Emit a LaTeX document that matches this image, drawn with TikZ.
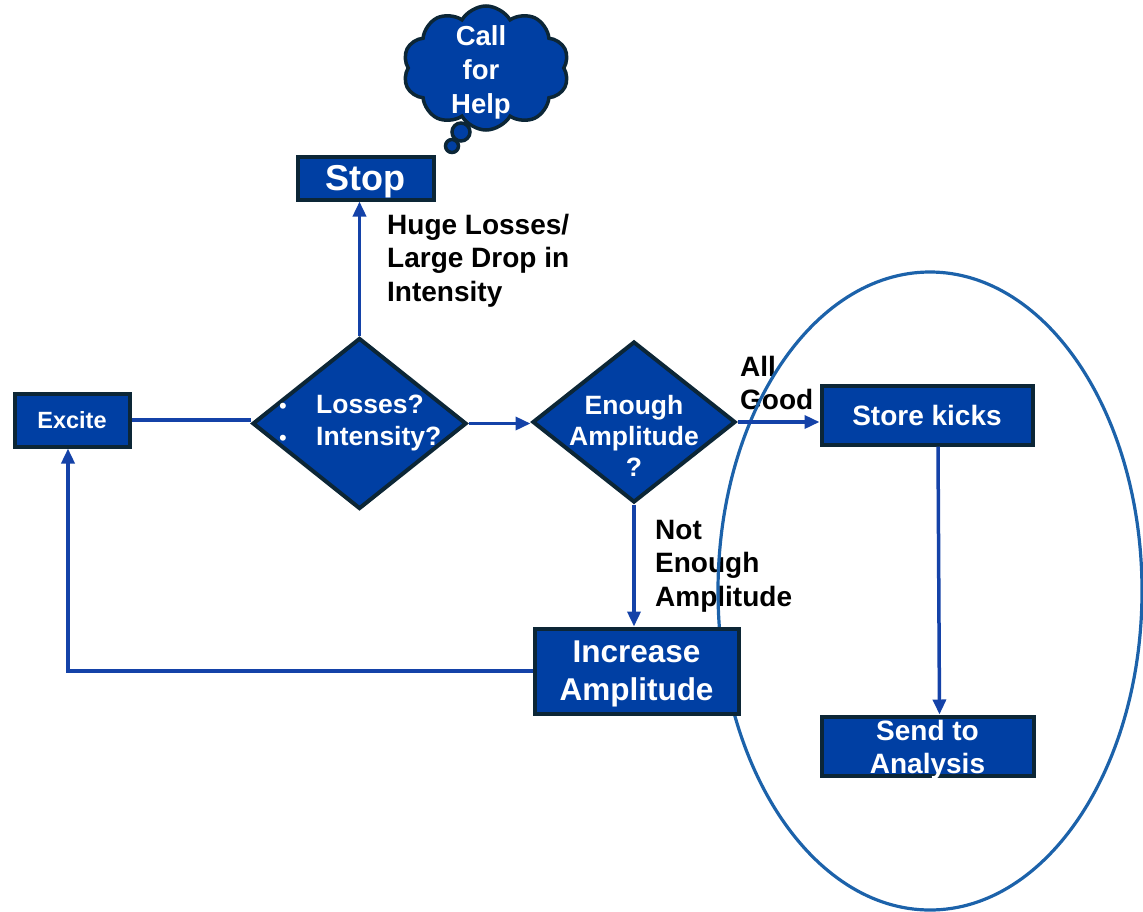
\documentclass[tikz,border=0pt]{standalone}
\usepackage{fontspec}
\setmainfont{Liberation Sans}
\usetikzlibrary{shapes.geometric,shapes.symbols,arrows.meta}
\definecolor{boxblue}{RGB}{0,63,163}
\definecolor{boxedge}{RGB}{12,38,54}
\definecolor{flowblue}{RGB}{20,66,168}
\definecolor{ringblue}{RGB}{28,98,170}
\tikzset{
  stepbox/.style={draw=boxedge, fill=boxblue, line width=4pt, inner sep=0pt,
    text=white, align=center, font=\bfseries\fontsize{28}{33.5}\selectfont},
  decision/.style={diamond, draw=boxedge, fill=boxblue, line width=4pt, inner sep=0pt},
  boxtext/.style={text=white, inner sep=0pt, font=\bfseries\fontsize{28}{33.5}\selectfont},
  edgetext/.style={text=black, inner sep=0pt, align=left, anchor=north west,
    font=\bfseries\fontsize{28}{33.5}\selectfont},
  link/.style={draw=flowblue, line width=3.5pt},
  flow/.style={link, -{Triangle[length=15pt,width=13pt]}},
  puff/.style={draw=boxedge, fill=boxblue, line width=3.5pt},
}
\begin{document}
\begin{tikzpicture}[x=1pt,y=-1pt]
\useasboundingbox (0,0) rectangle (1143,911);
\clip (0,0) rectangle (1143,911);

% branch labels
\node[edgetext] (lblstop) at (387,214) {Huge Losses/\\Large Drop in\\Intensity};
\node[edgetext] (lblgood) at (740,356) {All\\Good};
\node[edgetext] (lblnot) at (655,520) {Not\\Enough\\Amplitude};

% group ring around the storing branch
\draw[ringblue, line width=3.2pt] (930,591) ellipse [x radius=212, y radius=319];

% process boxes
\node[stepbox, minimum width=115, minimum height=53, text depth=0pt,
  font=\bfseries\fontsize{23.5}{28}\selectfont] (excite) at (72,420) {Excite};
\node[stepbox, minimum width=136, minimum height=43, text depth=0pt,
  font=\bfseries\fontsize{36}{40}\selectfont] (stop) at (365.5,178) {Stop};
\node[stepbox, minimum width=211, minimum height=59] (store) at (927,415) {Store kicks};
\node[stepbox, minimum width=212, minimum height=59] (send) at (927.5,746) {};
\node[boxtext, align=center] (sendtext) at (927.5,749.5) {Send to\\Analysis};
\node[stepbox, minimum width=204, minimum height=85] (inc) at (636.5,671) {};
\node[boxtext, align=center, font=\bfseries\fontsize{31.5}{38.5}\selectfont] (inctext) at (636.5,674) {Increase\\Amplitude};

% decisions
\node[decision, minimum width=214, minimum height=171] (d1) at (359.5,423.5) {};
\node[boxtext, anchor=west, align=left, font=\bfseries\fontsize{26.5}{32}\selectfont] (d1text) at (279,423)
  {\makebox[37pt][l]{\mdseries\fontsize{22}{32}\selectfont •}Losses?\\\makebox[37pt][l]{\mdseries\fontsize{22}{32}\selectfont •}Intensity?};
\node[decision, minimum width=203, minimum height=161] (d2) at (634,422) {};
\node[boxtext, align=center, font=\bfseries\fontsize{26.5}{31}\selectfont] (d2text) at (634,435.5) {Enough\\Amplitude\\?};

% thought cloud
\node[cloud, cloud puffs=10, cloud puff arc=120, aspect=1.3, puff,
  minimum width=166, minimum height=124] (cloud) at (486,68) {};
\node[boxtext, align=center, font=\bfseries\fontsize{27.5}{34}\selectfont] (cloudtext) at (481,72) {Call\\for\\Help};
\node[circle, puff, minimum size=18, inner sep=0pt] (bub1) at (461,132) {};
\node[circle, puff, minimum size=13, inner sep=0pt] (bub2) at (452,146) {};

% connectors
\draw[link] (excite.east) -- (excite.east -| d1.west);
\draw[flow] (d1.north) -- (d1.north |- stop.south);
\draw[flow] (d1.east) -- (d1.east -| d2.west);
\draw[flow] (d2.east) -- (d2.east -| store.west);
\draw[flow] (d2.south) -- (d2.south |- inc.north);
\draw[flow] (inc.west) -| ([xshift=-4pt]excite.south);
\draw[flow] ([xshift=11pt]store.south) -- ([xshift=12pt]send.north);
\end{tikzpicture}
\end{document}
